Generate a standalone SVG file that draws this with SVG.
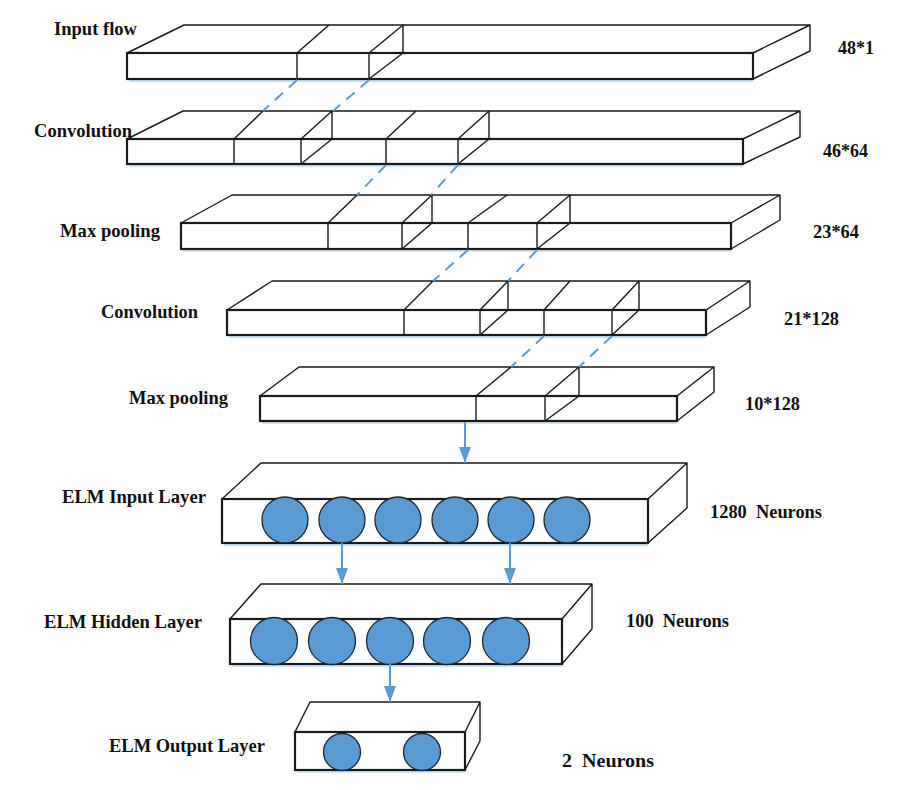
<svg xmlns="http://www.w3.org/2000/svg" width="909" height="790" viewBox="0 0 909 790">
<style>
.bk{fill:none;stroke:#1a1a1a;stroke-width:1.4;stroke-linejoin:round}
.fc{fill:#fff;stroke:#1a1a1a;stroke-width:2.2}
.sh{fill:none;stroke:#cfe1f4;stroke-width:2}
.ds{fill:none;stroke:#5b9bd5;stroke-width:2;stroke-dasharray:11 8}
.ar{fill:none;stroke:#5b9bd5;stroke-width:2}
.nc{fill:#5b9bd5;stroke:#1d2633;stroke-width:1.3}
.t{font-family:"Liberation Serif","Times New Roman",serif;font-weight:bold;font-size:19.5px;fill:#111}
</style>
<defs>
<marker id="ah" viewBox="0 0 16 12" markerWidth="16" markerHeight="12" refX="16" refY="6" orient="auto" markerUnits="userSpaceOnUse">
<path d="M0,0 L16,6 L0,12 z" fill="#5b9bd5"/>
</marker>
</defs>
<rect width="909" height="790" fill="#fff"/>

<g id="layer-input-flow">
<path class="bk" d="M127,53 L184,25 L810,25 L810,51 L753,79 M753,53 L810,25" fill="#fff"/>
<line class="sh" x1="129" y1="81" x2="753" y2="81"/>
<rect class="fc" x="127" y="53" width="626" height="26"/>
<path class="bk" d="M297,53 L297,79 M297,53 L329,25 M369,53 L369,79 M369,53 L403,25 L403,53 M369,79 L403,53"/>
<text class="t" x="54" y="35" textLength="83" lengthAdjust="spacingAndGlyphs">Input flow</text>
<text class="t" x="838" y="54" textLength="36" lengthAdjust="spacingAndGlyphs">48*1</text>
</g>

<g id="layer-conv1">
<path class="bk" d="M127,139 L183,111 L800,111 L800,137 L743,164 M743,139 L800,111"/>
<line class="sh" x1="129" y1="166" x2="743" y2="166"/>
<rect class="fc" x="127" y="139" width="616" height="25"/>
<path class="bk" d="M234,139 L234,164 M234,139 L263,111 M301,139 L301,164 M301,139 L332,111 L332,139 M301,164 L332,139 M386,139 L386,164 M386,139 L416,111 M458,139 L458,164 M458,139 L489,111 L489,139 M458,164 L489,139"/>
<text class="t" x="34" y="137" textLength="98" lengthAdjust="spacingAndGlyphs">Convolution</text>
<text class="t" x="823" y="157" textLength="45" lengthAdjust="spacingAndGlyphs">46*64</text>
</g>

<g id="layer-maxpool1">
<path class="bk" d="M181,223 L232,195 L780,195 L780,220 L731,249 M731,223 L780,195"/>
<line class="sh" x1="183" y1="251" x2="731" y2="251"/>
<rect class="fc" x="181" y="223" width="550" height="26"/>
<path class="bk" d="M328,223 L328,249 M328,223 L357,195 M402,223 L402,249 M402,223 L432,195 L432,223 M402,249 L432,223 M468,223 L468,249 M468,223 L507,195 M537,223 L537,249 M537,223 L570,195 L570,223 M537,249 L570,223"/>
<text class="t" x="60" y="237" textLength="100" lengthAdjust="spacingAndGlyphs">Max pooling</text>
<text class="t" x="813" y="238" textLength="46" lengthAdjust="spacingAndGlyphs">23*64</text>
</g>

<g id="layer-conv2">
<path class="bk" d="M227,310 L272,281 L750,281 L750,307 L706,335 M706,310 L750,281"/>
<line class="sh" x1="229" y1="337" x2="706" y2="337"/>
<rect class="fc" x="227" y="310" width="479" height="25"/>
<path class="bk" d="M404,310 L404,335 M404,310 L433,281 M480,310 L480,335 M480,310 L508,281 L508,310 M480,335 L508,310 M544,310 L544,335 M544,310 L570,281 M612,310 L612,335 M612,310 L639,281 L639,310 M612,335 L639,310"/>
<text class="t" x="101" y="318" textLength="97" lengthAdjust="spacingAndGlyphs">Convolution</text>
<text class="t" x="784" y="325" textLength="55" lengthAdjust="spacingAndGlyphs">21*128</text>
</g>

<g id="layer-maxpool2">
<path class="bk" d="M260,396 L299,367 L714,367 L714,392 L677,421 M677,396 L714,367"/>
<line class="sh" x1="262" y1="423" x2="677" y2="423"/>
<rect class="fc" x="260" y="396" width="417" height="25"/>
<path class="bk" d="M476,396 L476,421 M476,396 L511,367 M545,396 L545,421 M545,396 L579,367 L579,396 M545,421 L579,396"/>
<text class="t" x="129" y="404" textLength="99" lengthAdjust="spacingAndGlyphs">Max pooling</text>
<text class="t" x="745" y="410" textLength="55" lengthAdjust="spacingAndGlyphs">10*128</text>
</g>

<g id="layer-elm-input">
<path class="bk" d="M222,499 L261,463 L687,463 L687,508 L648,543 M648,499 L687,463"/>
<line class="sh" x1="224" y1="545" x2="648" y2="545"/>
<rect class="fc" x="222" y="499" width="426" height="44"/>
<circle class="nc" cx="285" cy="520" r="23"/>
<circle class="nc" cx="342" cy="520" r="23"/>
<circle class="nc" cx="398" cy="520" r="23"/>
<circle class="nc" cx="455" cy="520" r="23"/>
<circle class="nc" cx="511" cy="520" r="23"/>
<circle class="nc" cx="567" cy="520" r="23"/>
<text class="t" x="62" y="503" textLength="144" lengthAdjust="spacingAndGlyphs">ELM Input Layer</text>
<text class="t" x="710" y="518" xml:space="preserve" textLength="112" lengthAdjust="spacingAndGlyphs">1280  Neurons</text>
</g>

<g id="layer-elm-hidden">
<path class="bk" d="M230,619 L261,584 L592,584 L592,629 L562,664 M562,619 L592,584"/>
<line class="sh" x1="232" y1="666" x2="562" y2="666"/>
<rect class="fc" x="230" y="619" width="332" height="45"/>
<circle class="nc" cx="274" cy="641" r="23.5"/>
<circle class="nc" cx="332" cy="641" r="23.5"/>
<circle class="nc" cx="390" cy="641" r="23.5"/>
<circle class="nc" cx="447" cy="641" r="23.5"/>
<circle class="nc" cx="506" cy="641" r="23.5"/>
<text class="t" x="44" y="628" textLength="158" lengthAdjust="spacingAndGlyphs">ELM Hidden Layer</text>
<text class="t" x="626" y="627" xml:space="preserve" textLength="103" lengthAdjust="spacingAndGlyphs">100  Neurons</text>
</g>

<g id="layer-elm-output">
<path class="bk" d="M295,732 L310,702 L480,702 L480,741 L465,770 M465,732 L480,702"/>
<line class="sh" x1="297" y1="772" x2="465" y2="772"/>
<rect class="fc" x="295" y="732" width="170" height="38"/>
<circle class="nc" cx="342" cy="752" r="18.5"/>
<circle class="nc" cx="422" cy="752" r="18.5"/>
<text class="t" x="109" y="752" textLength="156" lengthAdjust="spacingAndGlyphs">ELM Output Layer</text>
<text class="t" x="562" y="767" xml:space="preserve" textLength="92" lengthAdjust="spacingAndGlyphs">2  Neurons</text>
</g>

<g id="connectors">
<line class="ds" x1="297" y1="80" x2="263" y2="111"/>
<line class="ds" x1="369" y1="80" x2="333" y2="111"/>
<line class="ds" x1="386" y1="165" x2="357" y2="195"/>
<line class="ds" x1="458" y1="165" x2="431" y2="195"/>
<line class="ds" x1="468" y1="250" x2="433" y2="281"/>
<line class="ds" x1="537" y1="250" x2="508" y2="281"/>
<line class="ds" x1="544" y1="336" x2="511" y2="367"/>
<line class="ds" x1="612" y1="336" x2="579" y2="367"/>
<line class="ar" x1="465" y1="422" x2="465" y2="463" marker-end="url(#ah)"/>
<line class="ar" x1="342" y1="543" x2="342" y2="584" marker-end="url(#ah)"/>
<line class="ar" x1="510" y1="543" x2="510" y2="584" marker-end="url(#ah)"/>
<line class="ar" x1="390" y1="664" x2="390" y2="702" marker-end="url(#ah)"/>
</g>
</svg>
